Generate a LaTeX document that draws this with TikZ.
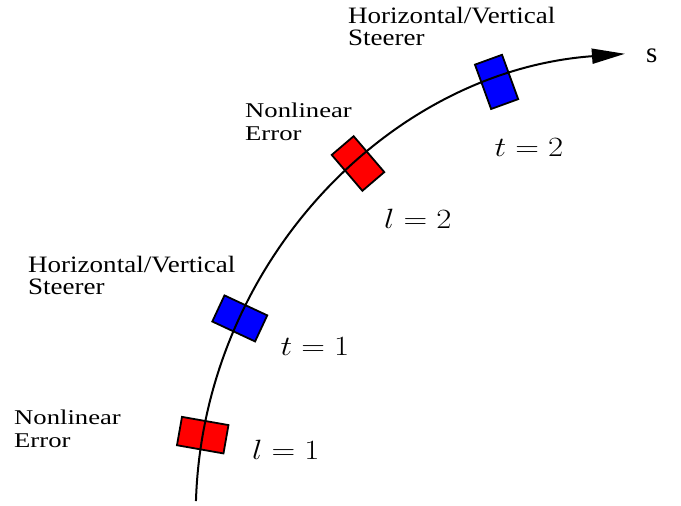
\documentclass[tikz,border=0pt]{standalone}
\usepackage{fontspec}
\usepackage{graphicx}
\usetikzlibrary{arrows.meta,calc}
\setmainfont{Liberation Serif}
\newfontfamily\steerfont[FakeStretch=1.15]{Liberation Serif}
\newfontfamily\errfont[FakeStretch=1.27]{Liberation Serif}
\newcommand{\bigmath}[1]{\scalebox{1.32}[1.12]{$#1$}}
\tikzset{
  elem/.style={draw=black, line width=1.8pt, minimum width=47.2pt, minimum height=28.8pt, inner sep=0pt, rotate=#1},
  errbox/.style={elem=#1, fill=red},
  steerbox/.style={elem=#1, fill=blue},
  steerlbl/.style={anchor=base west, inner sep=0pt, align=left, font=\steerfont\fontsize{23.5}{22.8}\selectfont},
  errlbl/.style={anchor=base west, inner sep=0pt, align=left, font=\errfont\fontsize{21}{22.8}\selectfont},
  mathlbl/.style={anchor=base west, inner sep=0pt, font=\Huge},
  beam/.style={line width=2pt, -{Triangle[length=33pt,width=15pt]}}
}
\begin{document}
\begin{tikzpicture}[x=1pt,y=1pt]
\useasboundingbox (0,0) rectangle (681,506);
\coordinate (C) at (658.7,-9.56);
\def\R{463}
% elements on the orbit
\node[errbox=-10]   (e1) at ($(C)+(170:\R)$) {};
\node[steerbox=-25] (s1) at ($(C)+(154.8:\R)$) {};
\node[errbox=-49.5] (e2) at ($(C)+(130.5:\R)$) {};
\node[steerbox=-70] (s2) at ($(C)+(110.5:\R)$) {};
% orbit
\coordinate (start) at ($(C)+(178.2:\R)$);
\draw[beam] (start) arc[start angle=178.2, end angle=94.18, radius=\R] coordinate (tip);
\node[anchor=base west, inner sep=0pt, font=\fontsize{29}{32}\selectfont] (slbl) at (646,443) {s};
% labels
\node[steerlbl] (ls2) at (348,460) {Horizontal/Vertical\\Steerer};
\node[steerlbl] (ls1) at (28,211) {Horizontal/Vertical\\Steerer};
\node[errlbl] (le2) at (245,365.9) {Nonlinear\\Error};
\node[errlbl] (le1) at (14,58.9) {Nonlinear\\Error};
\node[mathlbl] (m1) at (252,46.7) {\bigmath{l=1}};
\node[mathlbl] (m2) at (280.5,150.3) {\bigmath{t=1}};
\node[mathlbl] (m3) at (384,277) {\bigmath{l=2}};
\node[mathlbl] (m4) at (494.5,349) {\bigmath{t=2}};
\end{tikzpicture}
\end{document}
